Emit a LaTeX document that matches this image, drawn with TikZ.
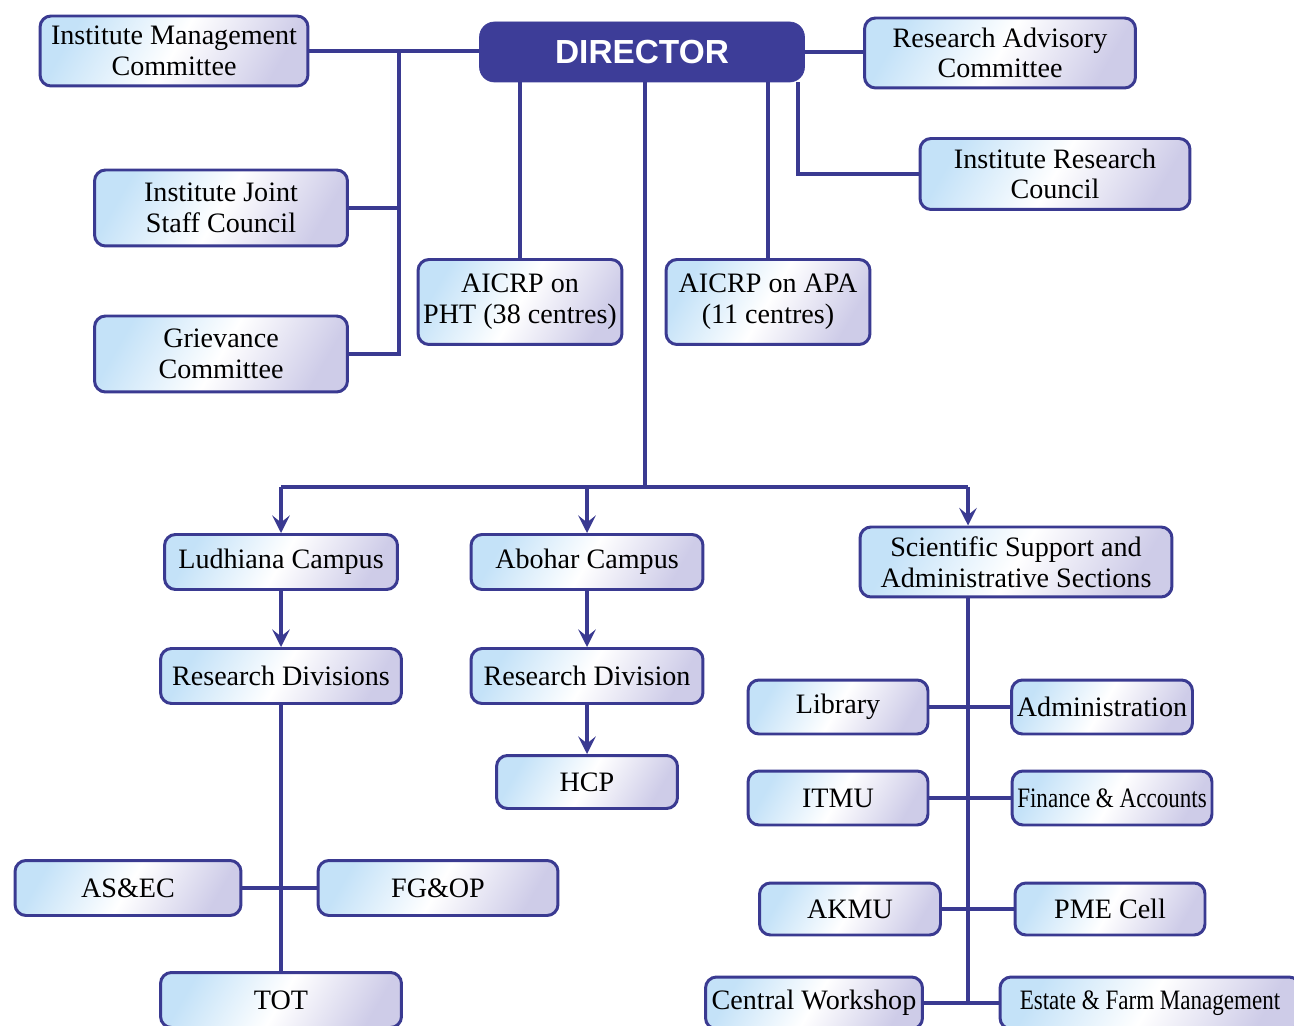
\documentclass[tikz,border=0pt]{standalone}
\usepackage{fontspec}
\setmainfont{Liberation Serif}
\newfontfamily\dirfont{Liberation Sans}
\newfontfamily\narrowfont[FakeStretch=0.82]{Liberation Serif}
\usetikzlibrary{arrows.meta,positioning}
\definecolor{navy}{RGB}{58,58,145}
\definecolor{headfill}{RGB}{61,61,152}
\definecolor{skyfill}{RGB}{196,226,248}
\definecolor{lilac}{RGB}{206,204,232}
\tikzset{unit/.style={draw=navy,line width=1.7pt,rounded corners=0.22cm,
                      left color=skyfill,right color=lilac,middle color=white,shading angle=60,
                      align=center,inner sep=2pt,font=\fontsize{16}{17.5}\selectfont},
         head/.style={draw=headfill,fill=headfill,rounded corners=0.3cm,text=white,
                      font=\dirfont\bfseries\fontsize{19}{22}\selectfont},
         link/.style={draw=navy,line width=2pt},
         feed/.style={link,-{Stealth[length=10pt,width=10pt,inset=4pt]}}}

\begin{document}
\begin{tikzpicture}[x=0.02cm,y=-0.02cm]
\useasboundingbox (0,0) rectangle (1294,1026);
% top level
\node[head,minimum width=6.5cm,minimum height=1.2cm] (dir) at (642,52) {DIRECTOR};
\node[unit,minimum width=5.36cm,minimum height=1.4cm] (imc) at (174,51) {Institute Management\\Committee};
\node[unit,minimum width=5.42cm,minimum height=1.4cm] (rac) at (1000,53) {Research Advisory\\Committee};
\node[unit,minimum width=5.4cm,minimum height=1.42cm] (irc) at (1055,174) {Institute Research\\Council};
\node[unit,minimum width=5.06cm,minimum height=1.52cm] (ijsc) at (221,208) {Institute Joint\\Staff Council};
\node[unit,minimum width=5.06cm,minimum height=1.52cm] (griev) at (221,354) {Grievance\\Committee};
\node[unit,minimum width=4.08cm,minimum height=1.7cm] (pht) at (520,302) {AICRP on\\PHT (38 centres)};
\node[unit,minimum width=4.08cm,minimum height=1.7cm] (apa) at (768,302) {AICRP on APA\\(11 centres)};
% campuses
\node[unit,minimum width=4.66cm,minimum height=1.1cm] (lud) at (281,562) {Ludhiana Campus};
\node[unit,minimum width=4.64cm,minimum height=1.1cm] (abo) at (587,562) {Abohar Campus};
\node[unit,minimum width=6.24cm,minimum height=1.4cm] (sci) at (1016,562) {Scientific Support and\\Administrative Sections};
\node[unit,minimum width=4.82cm,minimum height=1.1cm] (rds) at (281,676) {Research Divisions};
\node[unit,minimum width=4.64cm,minimum height=1.1cm] (rdiv) at (587,676) {Research Division};
\node[unit,minimum width=3.62cm,minimum height=1.06cm] (hcp) at (587,782) {HCP};
\node[unit,minimum width=4.52cm,minimum height=1.1cm] (asec) at (128,888) {AS\&EC};
\node[unit,minimum width=4.8cm,minimum height=1.1cm] (fgop) at (438,888) {FG\&OP};
\node[unit,minimum width=4.82cm,minimum height=1.1cm] (tot) at (281,1000) {TOT};
% sections
\node[unit,minimum width=3.6cm,minimum height=1.08cm] (lib) at (838,707) {Library};
\node[unit,minimum width=3.62cm,minimum height=1.08cm] (adm) at (1102,707) {Administration};
\node[unit,minimum width=3.6cm,minimum height=1.08cm] (itmu) at (838,798) {ITMU};
\node[unit,minimum width=4.0cm,minimum height=1.08cm] (fin) at (1112,798) {\narrowfont Finance \& Accounts};
\node[unit,minimum width=3.62cm,minimum height=1.04cm] (akmu) at (850,909) {AKMU};
\node[unit,minimum width=3.8cm,minimum height=1.04cm] (pme) at (1110,909) {PME Cell};
\node[unit,minimum width=4.34cm,minimum height=1.04cm] (cw) at (814,1003) {Central Workshop};
\node[unit,minimum width=6.0cm,minimum height=1.04cm] (efm) at (1150,1003) {\narrowfont Estate \& Farm Management};
\coordinate (cl) at (399,51);
\coordinate (hub) at (645,487);
\coordinate (spine) at (968,487);
% connectors
\draw[link] (imc.east) -- (imc.east -| dir.west);
\draw[link] (cl) |- (griev.east);
\draw[link] (ijsc.east) -- (ijsc.east -| cl);
\draw[link] (dir.east) -- (dir.east -| rac.west);
\draw[link] (dir.south -| 798,0) |- (irc.west);
\draw[link] (pht.north) -- (pht.north |- dir.south);
\draw[link] (apa.north) -- (apa.north |- dir.south);
\draw[link] (dir.south -| hub) -- (hub);
\draw[link] (lud.north |- hub) -- (spine);
\draw[feed] (lud.north |- hub) -- (lud.north);
\draw[feed] (abo.north |- hub) -- (abo.north);
\draw[feed] (spine) -- (spine |- sci.north);
\draw[feed] (lud) -- (rds);
\draw[feed] (abo) -- (rdiv);
\draw[feed] (rdiv) -- (hcp);
\draw[link] (rds) -- (tot);
\draw[link] (asec) -- (fgop);
\draw[link] (spine |- sci.south) -- (spine |- cw.east);
\draw[link] (lib) -- (adm);
\draw[link] (itmu) -- (fin);
\draw[link] (akmu) -- (pme);
\draw[link] (cw) -- (efm);
\end{tikzpicture}
\end{document}
